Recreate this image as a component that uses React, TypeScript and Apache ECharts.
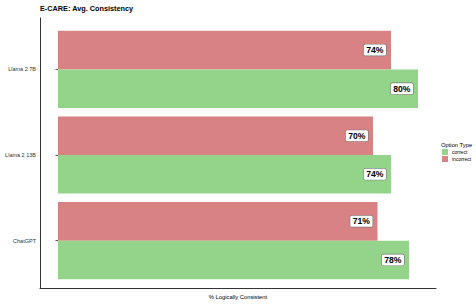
import React, { useEffect, useRef } from "react";
import * as echarts from "echarts";

const models = ["ChatGPT", "Llama 2 13B", "Llama 2 7B"];
const correctValues = [78, 74, 80];
const incorrectValues = [71, 70, 74];
const seriesNames = ["correct", "incorrect"];

const FONT = "Liberation Sans, Arial, Helvetica, sans-serif";

export default function App() {
  const ref = useRef<HTMLDivElement>(null);
  useEffect(() => {
    if (!ref.current) return;
    const chart = echarts.init(ref.current, undefined, { renderer: "svg" });
    const band = 274 / 3.2;
    const labelStyle = {
      show: true,
      position: "insideRight",
      distance: 5,
      formatter: (p: any) => `${p.value}%`,
      fontFamily: FONT,
      fontWeight: "bold",
      fontSize: 8.6,
      color: "#000",
      backgroundColor: "#fff",
      borderColor: "#777",
      borderWidth: 0.6,
      borderRadius: 1.5,
      padding: [1.5, 2.5, 0.5, 2.5],
    };
    chart.setOption({
      animation: false,
      title: [
        {
          text: "E-CARE: Avg. Consistency",
          left: 40,
          top: 5,
          padding: 0,
          textStyle: { fontFamily: FONT, fontWeight: "bold", fontSize: 7.3, color: "#000" },
        },
        {
          text: "Option Type",
          left: 441,
          top: 142,
          padding: 0,
          textStyle: { fontFamily: FONT, fontWeight: "normal", fontSize: 5.8, color: "#000" },
        },
      ],
      legend: {
        data: seriesNames,
        orient: "vertical",
        left: 442,
        top: 149,
        padding: 0,
        itemWidth: 6,
        itemHeight: 6,
        itemGap: 1,
        icon: "rect",
        textStyle: { fontFamily: FONT, fontSize: 5, color: "#000", padding: [0, 0, 0, -1] },
      },
      grid: [
        { left: 40, width: 396, top: 18 + 0.1 * band, height: 3 * band, containLabel: false },
        { left: 40, width: 396, top: 18, height: 274, containLabel: false },
      ],
      xAxis: [
        {
          gridIndex: 0,
          type: "value",
          min: -4,
          max: 84,
          show: false,
        },
        {
          gridIndex: 1,
          type: "value",
          min: 0,
          max: 1,
          axisLine: { show: true, lineStyle: { color: "#333", width: 1 } },
          axisTick: { show: false },
          axisLabel: { show: false },
          splitLine: { show: false },
          name: "% Logically Consistent",
          nameLocation: "middle",
          nameGap: 6,
          nameTextStyle: { fontFamily: FONT, fontSize: 5.8, color: "#000" },
        },
      ],
      yAxis: [
        {
          gridIndex: 0,
          type: "category",
          data: models,
          axisLine: { show: false },
          axisTick: { show: true, alignWithLabel: true, length: 2.5, lineStyle: { color: "#333", width: 0.8 } },
          axisLabel: { fontFamily: FONT, fontSize: 5.5, color: "#333", margin: 4 },
          splitLine: { show: false },
        },
        {
          gridIndex: 1,
          type: "value",
          min: 0,
          max: 1,
          axisLine: { show: true, lineStyle: { color: "#333", width: 1 } },
          axisTick: { show: false },
          axisLabel: { show: false },
          splitLine: { show: false },
        },
      ],
      series: [
        {
          name: "incorrect",
          type: "bar",
          xAxisIndex: 0,
          yAxisIndex: 0,
          data: incorrectValues,
          barGap: "0%",
          barCategoryGap: "10%",
          itemStyle: { color: "#d98283" },
          label: labelStyle,
        },
        {
          name: "correct",
          type: "bar",
          xAxisIndex: 0,
          yAxisIndex: 0,
          data: correctValues,
          barGap: "0%",
          barCategoryGap: "10%",
          itemStyle: { color: "#93d38a" },
          label: labelStyle,
        },
      ],
    });
    return () => chart.dispose();
  }, []);
  return (
    <div
      ref={ref}
      style={{ position: "fixed", left: 0, top: 0, width: 476, height: 305, background: "#fff" }}
    />
  );
}
